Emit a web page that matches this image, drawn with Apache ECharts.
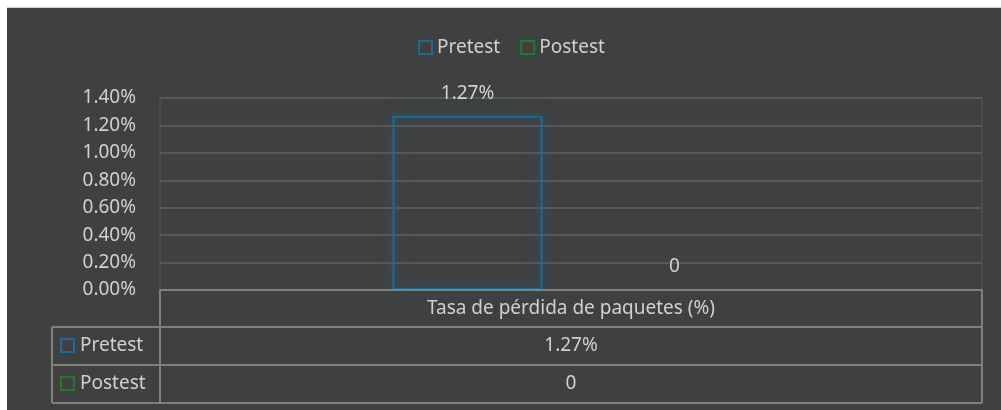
<!DOCTYPE html>
<html>
<head>
<meta charset="utf-8">
<script src="https://cdn.jsdelivr.net/npm/echarts@6/dist/echarts.min.js"></script>
<style>
  html, body { margin: 0; padding: 0; background: #ffffff; }
  #chart { position: absolute; left: 0; top: 0; width: 1001px; height: 410px; }
  .strip { position: absolute; background: #ffffff; pointer-events: none; }
</style>
</head>
<body>
<div id="chart"></div>
<div class="strip" style="left:0;top:0;width:1001px;height:7px;border-bottom:1px solid #d0d0d0;"></div>
<div class="strip" style="left:0;top:0;width:7px;height:410px;"></div>
<script>
// Packet loss rate, before and after
const categories = ['Tasa de pérdida de paquetes (%)'];
const seriesNames = ['Pretest', 'Postest'];
const pretestValues = [0.0127];
const postestValues = [0];
const yTicks = { min: 0, max: 0.014, interval: 0.002 };

const seriesColors = ['#1e6a96', '#1f7a30'];
const textColor = '#d0d0d0';
const fontFamily = 'Noto Sans';
const fontSize = 19;

// plot area in page pixels
const G = { left: 160, right: 982, top: 98, bottom: 290 };
// data table rows under the plot
const T = { left: 52, head: 290, row1: 327, row2: 365, end: 403 };

function fmt(v) {
  return v === 0 ? '0' : (v * 100).toFixed(2) + '%';
}

const chart = echarts.init(document.getElementById('chart'));

function barSeries(name, values, color) {
  return {
    name: name,
    type: 'bar',
    barWidth: 150,
    barGap: '38%',
    // soft glow around bars that have height
    data: values.map(v => ({
      value: v,
      itemStyle: { shadowBlur: v > 0 ? 14 : 0 }
    })),
    itemStyle: {
      color: 'transparent',
      borderColor: color,
      borderWidth: 2,
      shadowColor: color
    },
    label: {
      show: true,
      position: 'top',
      distance: 13,
      color: textColor,
      fontFamily: fontFamily,
      fontSize: fontSize,
      formatter: p => fmt(p.value)
    }
  };
}

const allSeries = [
  barSeries(seriesNames[0], pretestValues, seriesColors[0]),
  barSeries(seriesNames[1], postestValues, seriesColors[1])
];

// data table: borders, row markers and values
const lineStyle = { stroke: '#7f7f7f', lineWidth: 2 };
const graphics = [];
function hline(x1, x2, y) {
  graphics.push({ type: 'line', shape: { x1: x1, y1: y, x2: x2, y2: y }, style: lineStyle, z: 10 });
}
function vline(x, y1, y2) {
  graphics.push({ type: 'line', shape: { x1: x, y1: y1, x2: x, y2: y2 }, style: lineStyle, z: 10 });
}
hline(G.left, G.right, T.head);
hline(T.left, G.right, T.row1);
hline(T.left, G.right, T.row2);
hline(T.left, G.right, T.end);
vline(T.left, T.row1, T.end);
vline(G.left, T.head, T.end);
vline(G.right, T.head, T.end);

const rows = [
  { name: seriesNames[0], value: pretestValues[0], color: seriesColors[0], top: T.row1, bottom: T.row2 },
  { name: seriesNames[1], value: postestValues[0], color: seriesColors[1], top: T.row2, bottom: T.end }
];
rows.forEach(r => {
  const cy = (r.top + r.bottom) / 2;
  graphics.push({
    type: 'rect',
    shape: { x: 61, y: cy - 7, width: 13, height: 13 },
    style: { fill: 'transparent', stroke: r.color, lineWidth: 2 },
    z: 10
  });
  graphics.push({
    type: 'text', x: 80, y: cy,
    style: { text: r.name, fill: textColor, font: fontSize + 'px "' + fontFamily + '"', verticalAlign: 'middle', align: 'left' },
    z: 10
  });
  graphics.push({
    type: 'text', x: (G.left + G.right) / 2, y: cy,
    style: { text: fmt(r.value), fill: textColor, font: fontSize + 'px "' + fontFamily + '"', verticalAlign: 'middle', align: 'center' },
    z: 10
  });
});

chart.setOption({
  backgroundColor: '#404040',
  animation: false,
  textStyle: { fontFamily: fontFamily },
  legend: {
    show: true,
    left: 413,
    top: 33,
    orient: 'horizontal',
    itemWidth: 13,
    itemHeight: 13,
    itemGap: 20,
    data: seriesNames.map((n, i) => ({
      name: n,
      icon: 'rect',
      itemStyle: { color: 'transparent', borderColor: seriesColors[i], borderWidth: 2, shadowBlur: 0 }
    })),
    textStyle: { color: textColor, fontSize: fontSize, fontFamily: fontFamily }
  },
  grid: {
    left: G.left,
    right: 1001 - G.right,
    top: G.top,
    bottom: 410 - G.bottom,
    show: true,
    borderColor: '#585858',
    borderWidth: 1,
    containLabel: false
  },
  xAxis: {
    type: 'category',
    data: categories,
    axisLine: { show: true, lineStyle: { color: '#7f7f7f', width: 2 } },
    axisTick: { show: false },
    splitLine: { show: false },
    axisLabel: {
      margin: 9,
      color: textColor,
      fontSize: fontSize,
      fontFamily: fontFamily
    }
  },
  yAxis: {
    type: 'value',
    min: yTicks.min,
    max: yTicks.max,
    interval: yTicks.interval,
    axisLine: { show: false },
    axisTick: { show: false },
    splitLine: { show: true, lineStyle: { color: '#585858', width: 2 } },
    axisLabel: {
      margin: 24,
      color: textColor,
      fontSize: fontSize,
      fontFamily: fontFamily,
      formatter: v => (v * 100).toFixed(2) + '%'
    }
  },
  series: allSeries,
  graphic: graphics
});
</script>
</body>
</html>
